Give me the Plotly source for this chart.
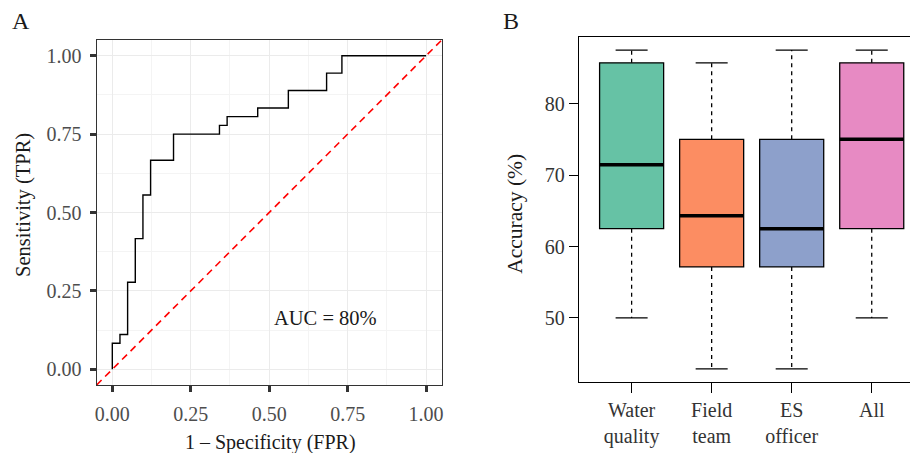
import plotly.graph_objects as go

# ---------------- Data ----------------
# Panel A: ROC curve (step points)
fpr = [0, 0, 0.0244, 0.0488, 0.0732, 0.0976, 0.1220, 0.1951, 0.3415, 0.3659,
       0.4634, 0.5610, 0.6829, 0.7317, 1.0]
tpr = [0, 0.0833, 0.1111, 0.2778, 0.4167, 0.5556, 0.6667, 0.75, 0.7778, 0.8056,
       0.8333, 0.8889, 0.9444, 1.0, 1.0]
diag = [-0.05, 1.05]
auc_label = "AUC = 80%"
roc_ticks = [0, 0.25, 0.5, 0.75, 1.0]
roc_ticktext = ["0.00", "0.25", "0.50", "0.75", "1.00"]

# Panel B: accuracy box plots (precomputed statistics)
groups = ["Water<br>quality", "Field<br>team", "ES<br>officer", "All"]
lower = [50.0, 42.86, 42.86, 50.0]
q1 = [62.5, 57.14, 57.14, 62.5]
median = [71.43, 64.29, 62.5, 75.0]
q3 = [85.71, 75.0, 75.0, 85.71]
upper = [87.5, 85.71, 87.5, 87.5]
box_colors = ["#66C2A5", "#FC8D62", "#8DA0CB", "#E78AC3"]
acc_ticks = [50, 60, 70, 80]

FONT = "Liberation Serif"
OFF = 8  # page body margin
W, H = 918 - OFF, 453 - OFF

fig = go.Figure()

# ---------------- Panel A ----------------
fig.add_trace(go.Scatter(x=diag, y=diag, mode="lines",
                         line=dict(color="#FF0000", width=1.6, dash="7px,5px"),
                         xaxis="x", yaxis="y", showlegend=False, hoverinfo="skip"))
fig.add_trace(go.Scatter(x=fpr, y=tpr, mode="lines", line_shape="hv",
                         line=dict(color="black", width=1.4),
                         xaxis="x", yaxis="y", showlegend=False))

# ---------------- Panel B ----------------
pos = [i + 1 for i in range(len(groups))]
box_w = 0.8
for i, p in enumerate(pos):
    fig.add_trace(go.Box(
        x=[p], q1=[q1[i]], median=[median[i]], q3=[q3[i]],
        lowerfence=[q1[i]], upperfence=[q3[i]],
        width=box_w, whiskerwidth=0, boxpoints=False,
        fillcolor=box_colors[i], line=dict(color="black", width=1.3),
        xaxis="x2", yaxis="y2", showlegend=False))
# whiskers (dashed)
wx, wy = [], []
for i, p in enumerate(pos):
    wx += [p, p, None, p, p, None]
    wy += [q3[i], upper[i], None, q1[i], lower[i], None]
fig.add_trace(go.Scatter(x=wx, y=wy, mode="lines",
                         line=dict(color="black", width=1.3, dash="4px,4px"),
                         xaxis="x2", yaxis="y2", showlegend=False, hoverinfo="skip"))
# caps
cx, cy = [], []
for i, p in enumerate(pos):
    cx += [p - box_w / 4, p + box_w / 4, None, p - box_w / 4, p + box_w / 4, None]
    cy += [upper[i], upper[i], None, lower[i], lower[i], None]
fig.add_trace(go.Scatter(x=cx, y=cy, mode="lines",
                         line=dict(color="black", width=1.3),
                         xaxis="x2", yaxis="y2", showlegend=False, hoverinfo="skip"))
# medians (thick)
mx, my = [], []
for i, p in enumerate(pos):
    mx += [p - box_w / 2, p + box_w / 2, None]
    my += [median[i], median[i], None]
fig.add_trace(go.Scatter(x=mx, y=my, mode="lines",
                         line=dict(color="black", width=3.5),
                         xaxis="x2", yaxis="y2", showlegend=False, hoverinfo="skip"))

# ---------------- Layout ----------------
def px_x(v):
    return (v - OFF) / W

def px_y(v):
    return 1 - (v - OFF) / H

grid_major = "#EBEBEB"
grid_minor = "#F4F4F4"
tickfont_a = dict(family=FONT, size=20, color="#4D4D4D")
tickfont_b = dict(family=FONT, size=20, color="#333333")

fig.update_layout(
    width=W, height=H,
    margin=dict(l=0, r=0, t=0, b=0),
    paper_bgcolor="white", plot_bgcolor="white",
    font=dict(family=FONT, color="black"),
    xaxis=dict(domain=[px_x(95), px_x(441.7)], anchor="y",
               range=[-0.05, 1.05], tickvals=roc_ticks, ticktext=roc_ticktext,
               showgrid=True, gridcolor=grid_major, gridwidth=1.1,
               minor=dict(dtick=0.125, tick0=0, showgrid=True, gridcolor=grid_minor, gridwidth=0.8),
               zeroline=False, showline=True, mirror=True, linecolor="#333333", linewidth=1.2,
               ticks="outside", ticklen=6, tickwidth=2.5, tickcolor="#333333",
               ticklabelstandoff=5, tickfont=tickfont_a),
    yaxis=dict(domain=[px_y(385), px_y(40)], anchor="x",
               range=[-0.05, 1.05], tickvals=roc_ticks, ticktext=roc_ticktext,
               showgrid=True, gridcolor=grid_major, gridwidth=1.1,
               minor=dict(dtick=0.125, tick0=0, showgrid=True, gridcolor=grid_minor, gridwidth=0.8),
               zeroline=False, showline=True, mirror=True, linecolor="#333333", linewidth=1.2,
               ticks="outside", ticklen=6, tickwidth=2.5, tickcolor="#333333",
               ticklabelstandoff=4, tickfont=tickfont_a),
    xaxis2=dict(domain=[px_x(579.3), 1.0], anchor="y2",
                range=[0.34, 4.553], tickvals=pos, ticktext=groups,
                showgrid=False, zeroline=False, showline=True, mirror=True,
                linecolor="black", linewidth=1.2,
                ticks="outside", ticklen=10, tickwidth=1.2, tickcolor="black",
                tickfont=tickfont_b),
    yaxis2=dict(domain=[px_y(381.7), px_y(37.3)], anchor="x2",
                range=[41.07, 89.29], tickvals=acc_ticks,
                showgrid=False, zeroline=False, showline=True, mirror=False,
                linecolor="black", linewidth=1.2,
                ticks="outside", ticklen=9, tickwidth=1.2, tickcolor="black",
                tickfont=tickfont_b),
)

annotations = [
    dict(text="A", x=px_x(19), y=px_y(21), font=dict(size=24)),
    dict(text="B", x=px_x(511.5), y=px_y(21), font=dict(size=24)),
    dict(text="1 \u2013 Specificity (FPR)", x=px_x(269.5), y=px_y(442), font=dict(size=20)),
    dict(text="Sensitivity (TPR)", x=px_x(22), y=px_y(205), textangle=-90, font=dict(size=20.5)),
    dict(text="Accuracy (%)", x=px_x(515), y=px_y(214), textangle=-90, font=dict(size=21.5)),
]
for a in annotations:
    a.update(xref="paper", yref="paper", xanchor="center", yanchor="middle", showarrow=False)
    a["font"] = dict(family=FONT, color="#1A1A1A", size=a["font"]["size"])
fig.update_layout(annotations=annotations)

fig.add_annotation(text=auc_label, x=0.68, y=0.165, xref="x", yref="y",
                   showarrow=False, font=dict(family=FONT, size=20.5, color="#1A1A1A"))

fig.write_html("out.html")
